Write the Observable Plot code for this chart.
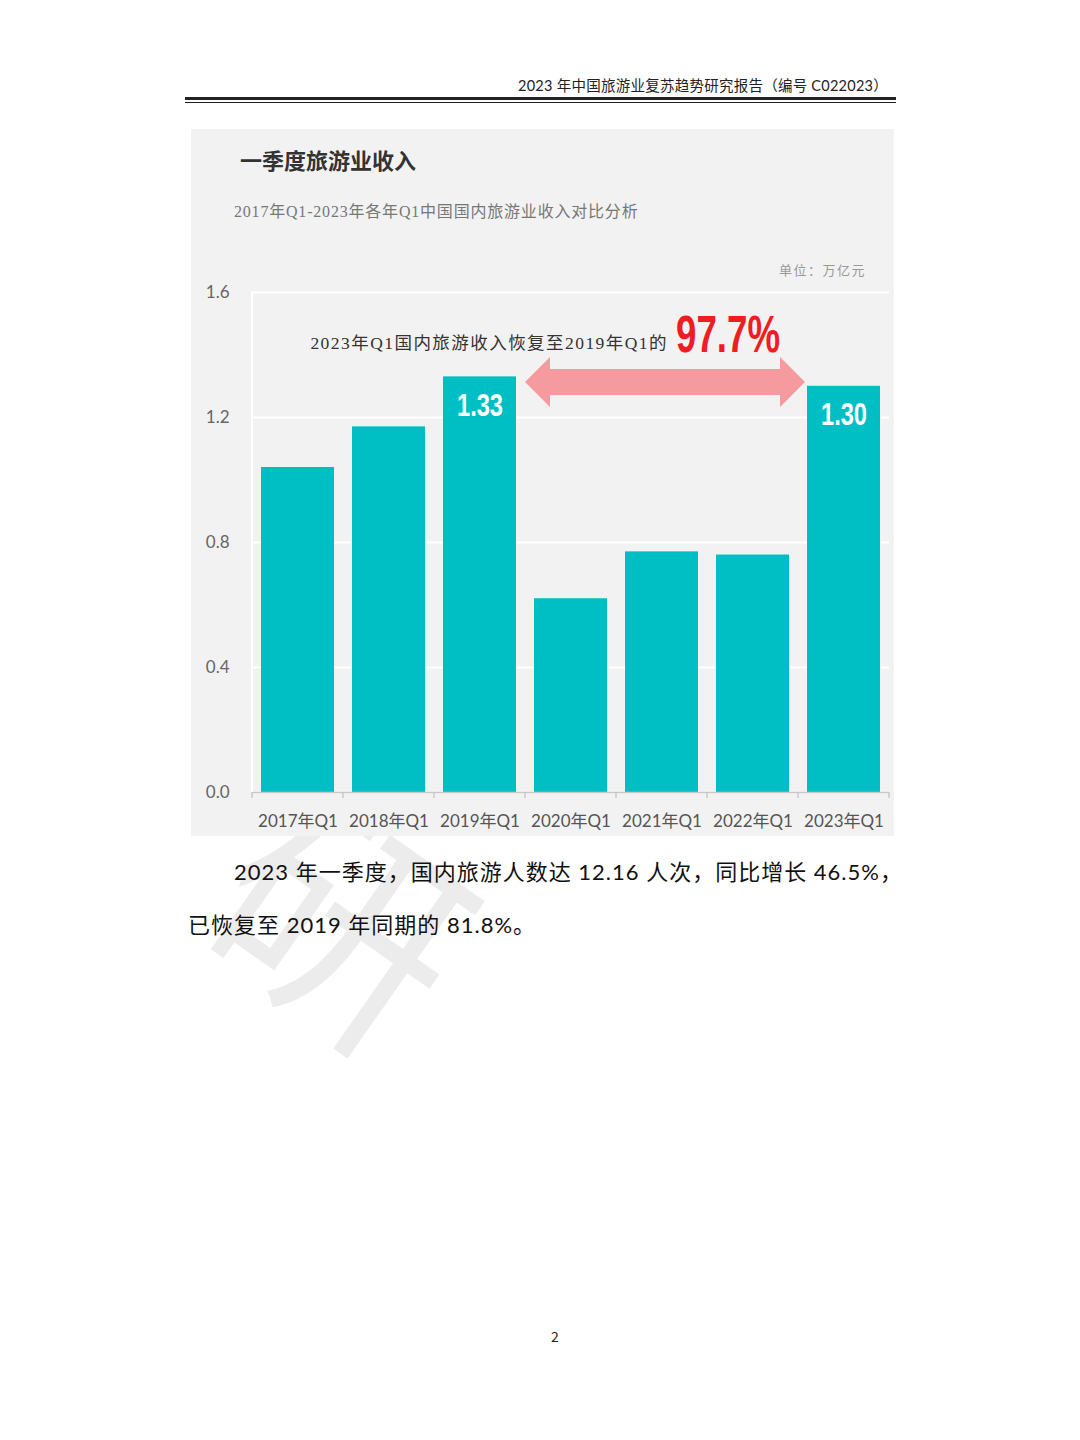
<!DOCTYPE html>
<html><head><meta charset="utf-8">
<script src="https://cdn.jsdelivr.net/npm/d3@7"></script>
<script src="https://cdn.jsdelivr.net/npm/@observablehq/plot@0.6"></script>
<style>
body{margin:0;background:#fff;width:1080px;height:1440px;position:relative;overflow:hidden;font-family:"Noto Sans CJK SC",sans-serif}
.abs{position:absolute;white-space:nowrap}
</style></head><body>
<div class="abs" style="right:192px;top:76px;font-size:14.5px;line-height:20px;letter-spacing:0.25px;color:#222;font-family:Lato,'Noto Sans CJK SC',sans-serif">2023 年中国旅游业复苏趋势研究报告（编号 C022023）</div>
<div class="abs" style="left:185px;top:97px;width:711px;height:3px;background:#222"></div>
<div class="abs" style="left:185px;top:102px;width:711px;height:1px;background:#222"></div>
<div class="abs" style="left:230px;top:790px;font-size:240px;line-height:240px;color:#ececec;transform:rotate(35deg);z-index:0">研</div>
<div class="abs" id="panel" style="left:191px;top:129px;width:703px;height:707px;background:#f2f2f2;z-index:1"></div>
<div class="abs" style="left:240px;top:144px;font-size:22px;line-height:30px;font-weight:bold;color:#333;z-index:2">一季度旅游业收入</div>
<div class="abs" style="left:234px;top:200px;font-size:16px;line-height:24px;letter-spacing:0.8px;color:#777;font-family:'Liberation Serif','Noto Sans CJK SC',serif;z-index:2">2017年Q1-2023年各年Q1中国国内旅游业收入对比分析</div>
<div class="abs" style="right:214px;top:260px;font-size:13px;line-height:20px;letter-spacing:1.5px;color:#999;z-index:2">单位：万亿元</div>
<div class="abs" id="chart" style="left:191px;top:255px;z-index:2"></div>
<div class="abs" style="left:234px;top:857px;font-size:22px;line-height:30px;letter-spacing:1px;color:#111;font-family:Lato,'Noto Sans CJK SC',sans-serif;z-index:2">2023 年一季度，国内旅游人数达 12.16 人次，同比增长 46.5%，</div>
<div class="abs" style="left:188px;top:910px;font-size:22px;line-height:30px;letter-spacing:1px;color:#111;font-family:Lato,'Noto Sans CJK SC',sans-serif;z-index:2">已恢复至 2019 年同期的 81.8%。</div>
<div class="abs" style="left:551px;top:1326px;font-size:14px;line-height:20px;color:#222">2</div>
<script>
const years = ["2017年Q1","2018年Q1","2019年Q1","2020年Q1","2021年Q1","2022年Q1","2023年Q1"];
const revenue = [1.04, 1.17, 1.33, 0.62, 0.77, 0.76, 1.30];
const yTicks = [0, 0.4, 0.8, 1.2, 1.6];
const labeledYears = ["2019年Q1", "2023年Q1"];
const recoveryText = "2023年Q1国内旅游收入恢复至2019年Q1的";
const recoveryPct = "97.7%";

const data = years.map((year, i) => ({year, value: revenue[i]}));
const narrow = "'Liberation Sans','DejaVu Sans',sans-serif";

const chart = Plot.plot({
  width: 703, height: 581,
  marginLeft: 61, marginRight: 5, marginTop: 37, marginBottom: 44,
  style: {background: "transparent", fontFamily: "Lato,'Noto Sans CJK SC',sans-serif", fontSize: "17px", color: "#666"},
  x: {domain: years, paddingInner: 0.2, paddingOuter: 0.1, label: null},
  y: {domain: [0, 1.6], label: null},
  marks: [
    Plot.gridY(yTicks, {stroke: "#fff", strokeOpacity: 1, strokeWidth: 2}),
    Plot.barY(data, {x: "year", y: "value", fill: "#00bfc4"}),
    Plot.ruleY([0], {stroke: "#c8c8c8", strokeWidth: 1.5}),
    Plot.axisY(yTicks, {tickSize: 0, tickPadding: 23, tickFormat: d => d.toFixed(1), color: "#666", fontSize: 17, label: null}),
    Plot.axisX({tickSize: 0, tickPadding: 22, color: "#555", fontSize: 17, label: null}),
    Plot.text(data.filter(d => labeledYears.includes(d.year)), {
      x: "year", y: "value", text: d => d.value.toFixed(2), dy: 29,
      fill: "#fff", fontSize: 31, fontWeight: 600, fontFamily: narrow, lineAnchor: "middle", className: "barlabel"
    })
  ]
});
document.getElementById("chart").appendChild(chart);

const xs = chart.scale("x"), ys = chart.scale("y");
const bw = xs.bandwidth, step = xs.step;
const gap = (step - bw) / 2;
const svg = d3.select(chart);
const y0 = ys.apply(0), yTop = ys.apply(1.6);
const edge0 = xs.apply(years[0]) - gap;

// condense the bar value labels
svg.selectAll(".barlabel text").attr("textLength", 46).attr("lengthAdjust", "spacingAndGlyphs");

// left white axis line
svg.append("line").attr("x1", edge0).attr("x2", edge0).attr("y1", yTop).attr("y2", y0)
  .attr("stroke", "#fff").attr("stroke-width", 2);
// band-edge ticks
for (let i = 0; i <= years.length; i++) {
  const x = edge0 + i * step;
  svg.append("line").attr("x1", x).attr("x2", x).attr("y1", y0).attr("y2", y0 + 6)
    .attr("stroke", "#c8c8c8").attr("stroke-width", 1.5);
}
// double arrow between 2019 and 2023
const L = xs.apply("2019年Q1") + bw + gap, R = xs.apply("2023年Q1") - 2;
const cy = ys.apply(1.312), hh = 25, sh = 13, hl = 25;
const pts = [[L,cy],[L+hl,cy-hh],[L+hl,cy-sh],[R-hl,cy-sh],[R-hl,cy-hh],[R,cy],[R-hl,cy+hh],[R-hl,cy+sh],[L+hl,cy+sh],[L+hl,cy+hh]];
svg.append("polygon").attr("points", pts.map(p => p.join(",")).join(" ")).attr("fill", "#f59a9e");
// annotation
const c21 = xs.apply("2021年Q1") + bw / 2;
svg.append("text").attr("x", c21 + 6.5).attr("y", ys.apply(1.437)).attr("dy", "0.35em")
  .attr("text-anchor", "end").attr("font-size", 17.5).attr("letter-spacing", 1.45).attr("fill", "#333")
  .attr("font-family", "'Liberation Serif','Noto Sans CJK SC',serif").text(recoveryText);
svg.append("text").attr("x", c21 + 14.5).attr("y", ys.apply(1.408))
  .attr("text-anchor", "start")
  .attr("font-size", 52).attr("font-weight", "bold").attr("fill", "#ee1d23")
  .attr("font-family", narrow).attr("textLength", 104).attr("lengthAdjust", "spacingAndGlyphs")
  .text(recoveryPct);
</script>
</body></html>
